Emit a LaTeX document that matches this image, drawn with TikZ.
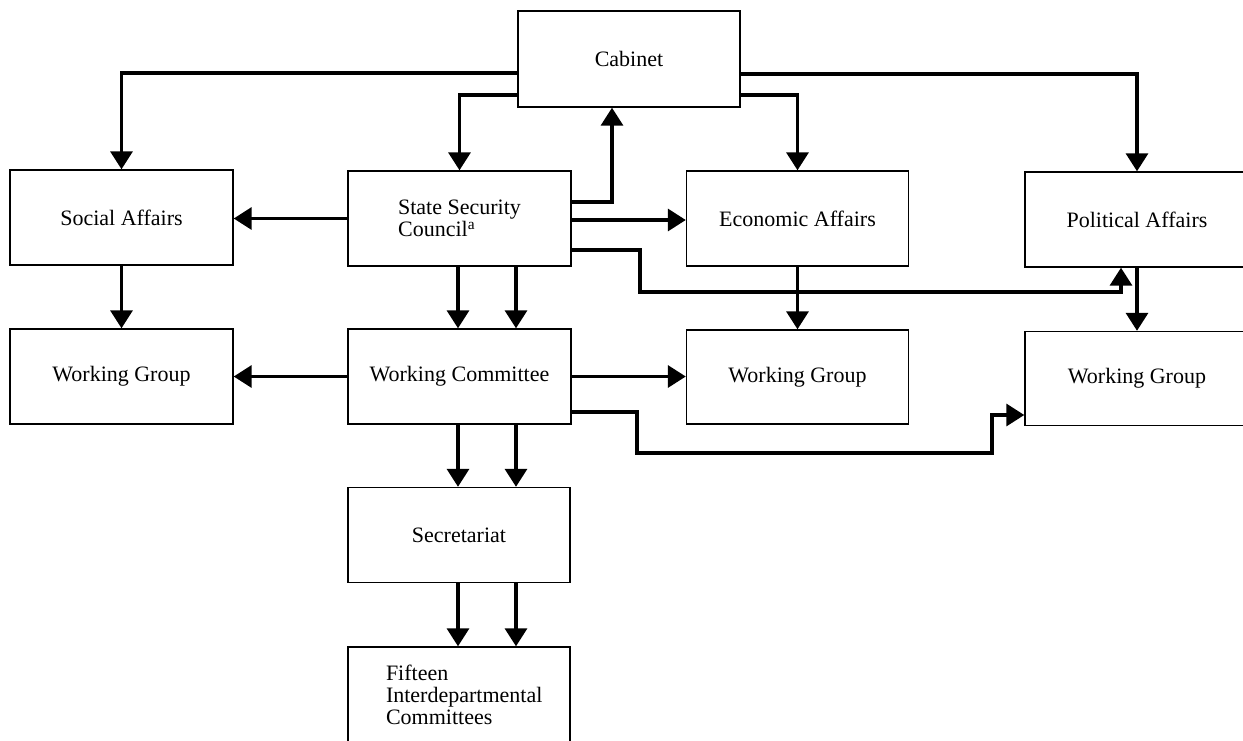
\documentclass[tikz,border=0pt]{standalone}
\usepackage{fontspec}
\setmainfont{Liberation Serif}
\usetikzlibrary{arrows.meta}
\tikzset{
  box/.style={draw, line width=1.4pt, rectangle, inner sep=0pt, minimum width=223pt, minimum height=95pt, font=\fontsize{22}{22}\selectfont},
  arr/.style={line width=3.4pt, line join=miter, -{Triangle[length=18pt,width=22pt]}},
}
\begin{document}
\begin{tikzpicture}[x=1pt,y=-1pt]
\useasboundingbox (0,0) rectangle (1243,740);
\clip (0,0) rectangle (1243,740);
\fill[white] (0,0) rectangle (1243,740);
% nodes
\node[box, minimum width=222pt, minimum height=96pt] (cab) at (629,59) {Cabinet};
\node[box] (soc) at (121.5,217.5) {Social Affairs};
\node[box, align=left] (ssc) at (459.5,218.5) {State Security\\Council\textsuperscript{a}};
\node[box, minimum width=222pt] (eco) at (797.5,218.5) {Economic Affairs};
\node[box, minimum width=224pt] (pol) at (1137,219.5) {Political Affairs};
\node[box] (wgs) at (121.5,376.5) {Working Group};
\node[box] (wc) at (459.5,376.5) {Working Committee};
\node[box, minimum width=222pt, minimum height=94pt] (wge) at (797.5,377) {Working Group};
\node[box, minimum width=224pt, minimum height=94pt] (wgp) at (1137,378.5) {Working Group};
\node[box, minimum width=222pt] (sec) at (459,535) {Secretariat};
\node[box, minimum width=222pt, align=left, text width=170pt] (fif) at (459,694.5) {\hspace*{12pt}Fifteen\\\hspace*{12pt}Interdepartmental\\\hspace*{12pt}Committees};
% connectors from Cabinet
\draw[arr] (cab.west |- 0,73) -| (soc.north);
\draw[arr] (cab.east |- 0,74) -| (pol.north);
\draw[arr] (cab.west |- 0,95) -| (ssc.north);
\draw[arr] (cab.east |- 0,95) -| (eco.north);
% from State Security Council
\draw[arr] (ssc.east |- 0,202) -| ([xshift=-17pt]cab.south);
\draw[arr] (ssc.east |- 0,220) -- (eco.west |- 0,220);
\draw[arr] (ssc.east |- 0,250) -- (640,250) -- (640,292) -| ([xshift=-16pt]pol.south);
\draw[arr] (ssc.west) -- (ssc.west -| soc.east);
\draw[arr] ([xshift=-1.5pt]ssc.south) -- ([xshift=-1.5pt]wc.north);
\draw[arr] ([xshift=56.5pt]ssc.south) -- ([xshift=56.5pt]wc.north);
% affairs to working groups
\draw[arr] (soc.south) -- (wgs.north);
\draw[arr] (eco.south) -- (wge.north);
\draw[arr] (pol.south) -- (wgp.north);
% from Working Committee
\draw[arr] (wc.west) -- (wc.west -| wgs.east);
\draw[arr] (wc.east) -- (wc.east -| wge.west);
\draw[arr] (wc.east |- 0,412) -- (637,412) -- (637,453) -- (992,453) -- (992,415) -- (wgp.west |- 0,415);
\draw[arr] ([xshift=-1.5pt]wc.south) -- ([xshift=-1pt]sec.north);
\draw[arr] ([xshift=56.5pt]wc.south) -- ([xshift=57pt]sec.north);
% Secretariat to committees
\draw[arr] ([xshift=-1pt]sec.south) -- ([xshift=-1pt]fif.north);
\draw[arr] ([xshift=57pt]sec.south) -- ([xshift=57pt]fif.north);
\end{tikzpicture}
\end{document}
